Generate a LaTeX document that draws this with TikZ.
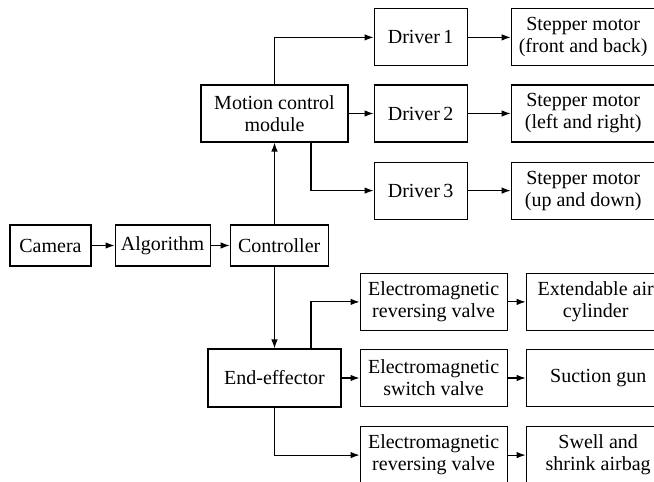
\documentclass[tikz,border=0pt]{standalone}
\usepackage{fontspec}
\setmainfont{Liberation Serif}
\usetikzlibrary{positioning, arrows.meta}

\tikzset{
	blk/.style={draw, line width=1.1pt, align=center, inner sep=2pt,
		font=\fontsize{20}{22}\selectfont},
	arr/.style={-{Latex[length=9pt,width=6.5pt]}, line width=1.1pt}
}

\begin{document}
\begin{tikzpicture}[x=1pt,y=1pt]
	\useasboundingbox (0,0) rectangle (654,482);
	\clip (0,0) rectangle (654,482);
	% input chain
	\node[blk, minimum width=81pt, minimum height=41pt] (cam) at (50.5,236.5) {Camera};
	\node[blk, minimum width=95pt, minimum height=41pt] (alg) [right=23pt of cam] {Algorithm};
	\node[blk, minimum width=98pt, minimum height=41pt] (ctrl) [right=19pt of alg] {Controller};
	% motion branch
	\node[blk, minimum width=147pt, minimum height=57pt] (mcm) at (274.5,368.5) {Motion control\\module};
	\node[blk, minimum width=93pt, minimum height=57pt] (drv2) [right=25pt of mcm] {Driver\,2};
	\node[blk, minimum width=93pt, minimum height=57pt] (drv1) [above=18pt of drv2] {Driver\,1};
	\node[blk, minimum width=93pt, minimum height=57pt] (drv3) [below=19pt of drv2] {Driver\,3};
	\node[blk, minimum width=144pt, minimum height=57pt] (stp1) [right=43pt of drv1] {Stepper motor\\(front and back)};
	\node[blk, minimum width=144pt, minimum height=57pt] (stp2) [right=43pt of drv2] {Stepper motor\\(left and right)};
	\node[blk, minimum width=144pt, minimum height=57pt] (stp3) [right=43pt of drv3] {Stepper motor\\(up and down)};
	% end-effector branch
	\node[blk, minimum width=133pt, minimum height=58pt] (eef) at (274.5,104) {End-effector};
	\node[blk, minimum width=147pt, minimum height=57pt] (vlv2) [right=18pt of eef] {Electromagnetic\\switch valve};
	\node[blk, minimum width=147pt, minimum height=57pt] (vlv1) [above=18pt of vlv2] {Electromagnetic\\reversing valve};
	\node[blk, minimum width=147pt, minimum height=57pt] (vlv3) [below=19pt of vlv2] {Electromagnetic\\reversing valve};
	\node[blk, minimum width=139pt, minimum height=57pt] (cyl) [right=18pt of vlv1] {Extendable air\\cylinder};
	\node[blk, minimum width=144pt, minimum height=57pt] (gun) [right=18pt of vlv2] {Suction gun};
	\node[blk, minimum width=144pt, minimum height=57pt] (bag) [right=18pt of vlv3] {Swell and\\shrink airbag};
	% connectors
	\draw[arr] (cam) -- (alg);
	\draw[arr] (alg) -- (ctrl);
	\draw[arr] (ctrl.north -| mcm.south) -- (mcm.south);
	\draw[arr] (mcm.north) |- (drv1.west);
	\draw[arr] (mcm.east) -- (drv2.west);
	\draw[arr] ([xshift=36.5pt]mcm.south) |- (drv3.west);
	\draw[arr] (drv1) -- (stp1);
	\draw[arr] (drv2) -- (stp2);
	\draw[arr] (drv3) -- (stp3);
	\draw[arr] (ctrl.south -| eef.north) -- (eef.north);
	\draw[arr] ([xshift=36.5pt]eef.north) |- (vlv1.west);
	\draw[arr] (eef.east) -- (vlv2.west);
	\draw[arr] (eef.south) |- (vlv3.west);
	\draw[arr] (vlv1) -- (cyl);
	\draw[arr] (vlv2) -- (gun);
	\draw[arr] (vlv3) -- (bag);
\end{tikzpicture}
\end{document}
